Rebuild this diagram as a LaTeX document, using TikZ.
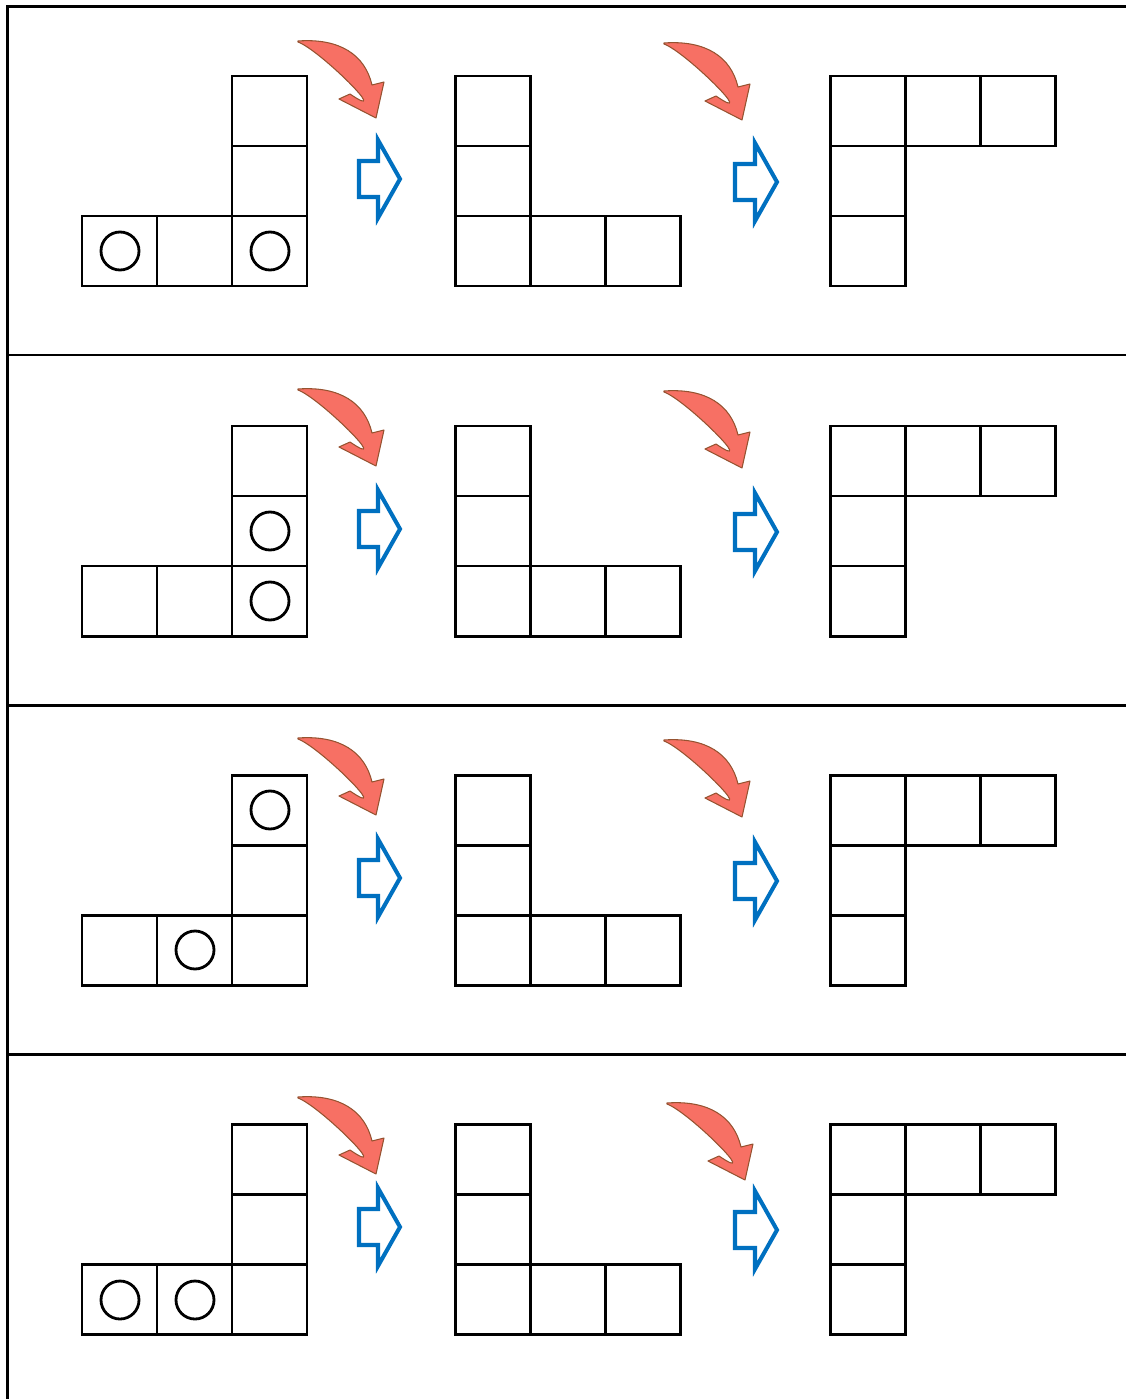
\documentclass[tikz,border=0pt]{standalone}
\definecolor{turnred}{RGB}{247,112,100}
\definecolor{turnedge}{RGB}{150,82,48}
\definecolor{pushblue}{RGB}{0,112,192}

\begin{document}
\begin{tikzpicture}[x=0.02cm, y=-0.02cm, line width=1.7pt,
  cell/.style={draw=black, line join=miter},
  ring/.style={draw=black, line width=1.6pt},
  turn/.style={fill=turnred, draw=turnedge, line width=0.6pt, line join=round},
  push/.style={draw=pushblue, line width=2.3pt, line join=miter}]

  \useasboundingbox (0,0) rectangle (1126,1399);

  % frame and row separators
  \draw (7.5,1399) -- (7.5,6.5) -- (1126,6.5);
  \foreach \sy in {355,705,1054}
    \draw (7.5,\sy) -- (1126,\sy);

  \foreach \r/\dy in {1/0, 2/350, 3/699, 4/1048} {
    % start shape, after first turn, after second turn
    \foreach \cx/\cy in {82/216, 157/216, 232/216, 232/146, 232/76,
                         455/76, 455/146, 455/216, 530/216, 605/216,
                         830/76, 905/76, 980/76, 830/146, 830/216}
      \draw[cell] (\cx,\cy+\dy) rectangle (\cx+75,\cy+\dy+70);
    % blue arrows
    \draw[push] (359,179+\dy) ++(0,-18) -- ++(19,0) -- ++(0,-21) -- ++(22,39)
      -- ++(-22,39) -- ++(0,-21) -- ++(-19,0) -- cycle;
    \draw[push] (735,182+\dy) ++(0,-18) -- ++(20,0) -- ++(0,-21) -- ++(22,39)
      -- ++(-22,39) -- ++(0,-21) -- ++(-20,0) -- cycle;
  }

  % red turning arrows
  \foreach \tx/\ty in {298/41, 298/389, 298/738, 298/1097,
                       664/43, 664/391, 664/740, 667/1103}
    \draw[turn] (\tx,\ty) .. controls +(42,-3) and +(-7,-30) .. +(74,44)
      -- +(86,41) -- +(78,77) -- +(41,58) -- +(52,53)
      .. controls +(44,30) and +(22,8) .. +(0,1) -- cycle;

  % circles
  \foreach \mx/\my in {120/251, 270/251,
                       270/531, 270/601,
                       270/810, 195/950,
                       120/1300, 195/1300}
    \draw[ring] (\mx,\my) circle[radius=19];

\end{tikzpicture}
\end{document}
